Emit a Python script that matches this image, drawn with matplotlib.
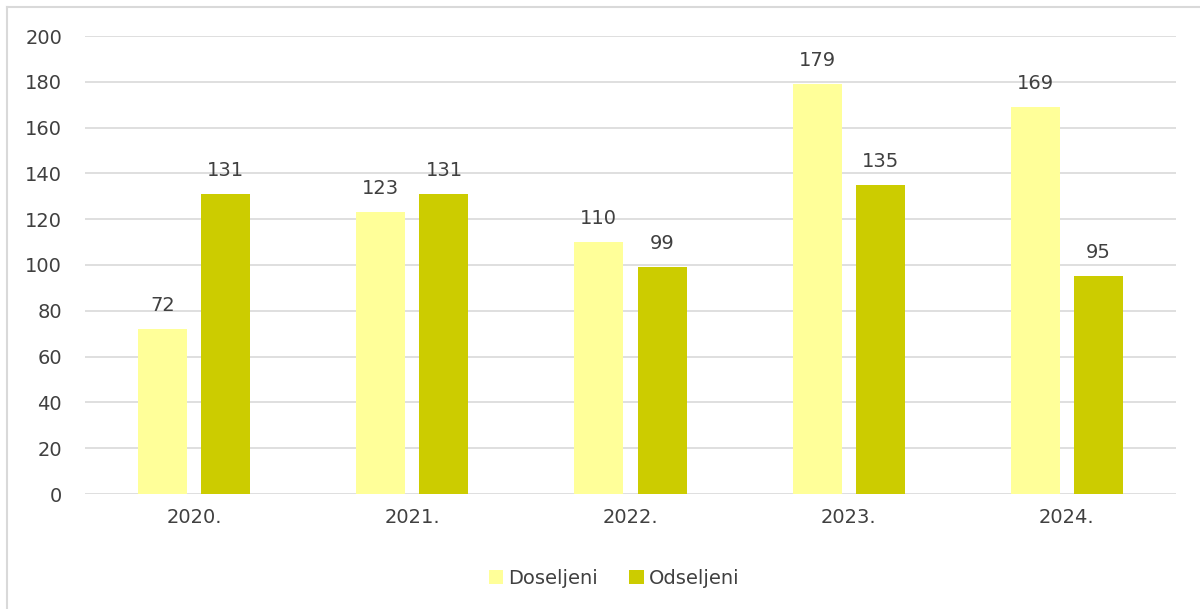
import matplotlib
matplotlib.use("Agg")
import matplotlib.pyplot as plt
import matplotlib.lines as mlines
import numpy as np

years = ["2020.", "2021.", "2022.", "2023.", "2024."]
doseljeni = [72, 123, 110, 179, 169]
odseljeni = [131, 131, 99, 135, 95]
series_names = ["Doseljeni", "Odseljeni"]

plt.rcParams['font.family'] = ['DejaVu Sans']
text_col = "#404040"
grid_col = "#D9D9D9"

fig = plt.figure(figsize=(12, 6.09), dpi=100)
ax = fig.add_axes([85/1200, 1-494/609, (1176-85)/1200, (494-36)/609])

x = np.arange(len(years))
w = 0.225
off = 0.145
b1 = ax.bar(x - off, doseljeni, w, color="#FFFF99", label=series_names[0], zorder=2)
b2 = ax.bar(x + off, odseljeni, w, color="#CCCC00", label=series_names[1], zorder=2)

for bars in (b1, b2):
    for r in bars:
        ax.annotate(f"{int(r.get_height())}", (r.get_x() + r.get_width()/2, r.get_height()),
                    xytext=(0, 17), textcoords="offset points", ha="center", va="center",
                    fontsize=14, color=text_col)

ax.set_xlim(-0.5, len(years) - 0.5)
ax.set_ylim(0, 200)
ax.set_yticks(range(0, 201, 20))
ax.set_xticks(x)
ax.set_xticklabels(years)
ax.tick_params(axis="both", length=0, labelsize=14, labelcolor=text_col)
ax.tick_params(axis="x", pad=10)
ax.tick_params(axis="y", pad=16.5)
ax.yaxis.grid(True, color=grid_col, linewidth=1.2, zorder=0)
ax.set_axisbelow(True)
for s in ax.spines.values():
    s.set_visible(False)

fig.legend(handles=[b1, b2], loc="center", bbox_to_anchor=(614/1200, 1-578/609), ncol=2,
           frameon=False, fontsize=14, handlelength=0.75, handleheight=0.75,
           handletextpad=0.25, columnspacing=1.6, labelcolor=text_col)

# outer chart border: only top and left edges are visible in the crop
fig.add_artist(mlines.Line2D([6.5/1200, 1], [1-6.5/609, 1-6.5/609], transform=fig.transFigure,
                             color=grid_col, linewidth=1.5))
fig.add_artist(mlines.Line2D([6.5/1200, 6.5/1200], [0, 1-6.5/609], transform=fig.transFigure,
                             color=grid_col, linewidth=1.5))

fig.savefig("out.png", dpi=100)
